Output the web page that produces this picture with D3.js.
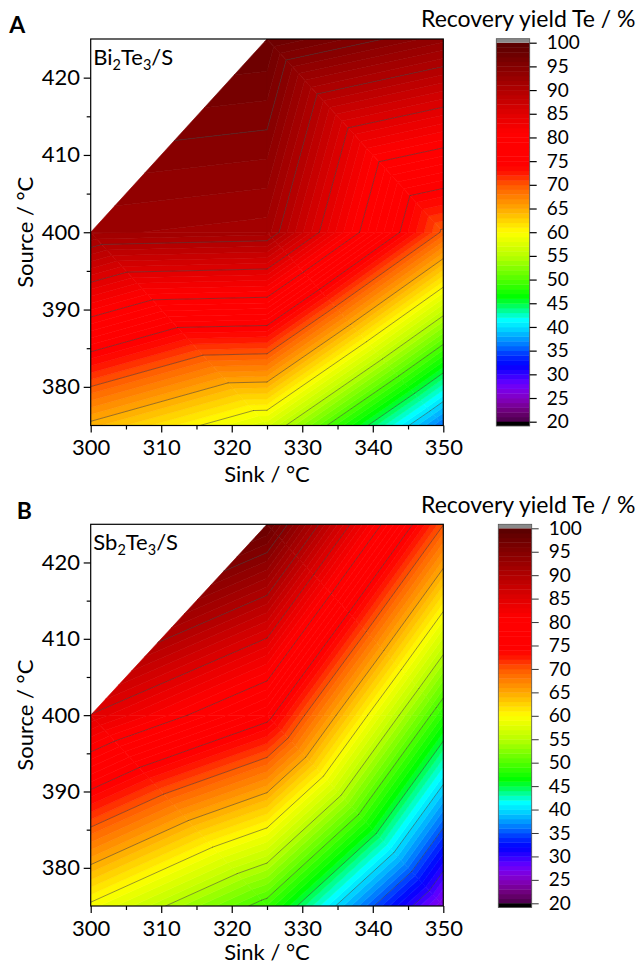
<!DOCTYPE html>
<html><head><meta charset="utf-8">
<script src="https://cdn.jsdelivr.net/npm/d3@7"></script>
<style>
html,body{margin:0;padding:0;background:#fff;}
svg text{font-family:Lato,"Open Sans",sans-serif;fill:#000;}
</style></head><body>
<svg id="chart" width="638" height="965"></svg>
<script>
// ---- data (measured grid: rows = source temperature, columns = sink temperature) ----
const sinkTemps = [300, 325, 350];
const sourceTemps = [375, 400, 425];
const yieldBi2Te3 = [
  [64.4, 57.3, 35.8],   // source 375
  [92.2, 91.5, 69.6],   // source 400
  [null, 98.1, 93.4]    // source 425
];
const yieldSb2Te3 = [
  [59.5, 48.9, 26.0],
  [84.9, 76.0, 48.0],
  [null, 98.3, 70.1]
];
// triangulation of the measured points (index pairs [sinkIdx, sourceIdx])
const meshTriangles = [
  [[0,0],[1,0],[0,1]], [[1,0],[1,1],[0,1]],
  [[1,0],[2,0],[1,1]], [[2,0],[2,1],[1,1]],
  [[0,1],[1,1],[1,2]],
  [[1,1],[2,1],[1,2]], [[2,1],[2,2],[1,2]]
];
const xTicks = [300, 310, 320, 330, 340, 350];
const xMinorTicks = [305, 315, 325, 335, 345];
const yTicks = [380, 390, 400, 410, 420];
const yMinorTicks = [385, 395, 405, 415];
const colorTicks = [20, 25, 30, 35, 40, 45, 50, 55, 60, 65, 70, 75, 80, 85, 90, 95, 100];
const lineLevels = [25, 30, 35, 40, 45, 50, 55, 60, 65, 70, 75, 80, 85, 90, 95];
const bandLevels = d3.range(20, 100, 1);
// palette (Origin-like rainbow)
const paletteValues = [20, 22, 24, 26, 28, 30, 32, 34, 36, 38, 40, 41.5, 43, 45, 46.5, 50, 55, 60, 65, 70, 72.5, 74, 81, 85, 90, 95, 100];
const paletteColors = ["#4a004a","#6a0070","#7e00a8","#8000d8","#6a00ff","#3000ff","#0000ff","#0030ff","#0070ff","#00a8ff","#00e0ff","#00ffff","#00ffb0","#00ff40","#00ff00","#50ff00","#b8ff00","#ffff00","#ffa800","#ff5800","#ff1800","#ff0000","#ff0000","#e00000","#b00000","#840000","#580000"];

const color = d3.scaleLinear().domain(paletteValues).range(paletteColors).interpolate(d3.interpolateRgb).clamp(true);
const svg = d3.select("#chart");
const FONT = 22;

const panels = [
  {values: yieldBi2Te3, letter: "A", letterX: 9.3, letterY: 33.3, formula: ["Bi","2","Te","3","/S"],
   left: 90.7, right: 443.3, top: 39, bottom: 425.5, sinkTitleY: 482,
   cbLeft: 496.3, cbRight: 529.7, cb100: 42.7, cb20: 421.7, cbTitleY: 27},
  {values: yieldSb2Te3, letter: "B", letterX: 16.7, letterY: 519.3, formula: ["Sb","2","Te","3","/S"],
   left: 90.7, right: 443.3, top: 524.3, bottom: 906, sinkTitleY: 959.5,
   cbLeft: 498.3, cbRight: 531.7, cb100: 528.3, cb20: 903.3, cbTitleY: 512.5}
];

function clipPoly(poly, level, keepAbove) {
  const out = [];
  for (let k = 0; k < poly.length; k++) {
    const P = poly[k], Q = poly[(k + 1) % poly.length];
    const pin = keepAbove ? P.v >= level : P.v <= level;
    const qin = keepAbove ? Q.v >= level : Q.v <= level;
    if (pin) out.push(P);
    if (pin !== qin) {
      const t = (level - P.v) / (Q.v - P.v);
      out.push({sx: P.sx + t * (Q.sx - P.sx), sy: P.sy + t * (Q.sy - P.sy), v: level});
    }
  }
  return out;
}

panels.forEach((cfg, pi) => {
  const x = d3.scaleLinear().domain([300, 350]).range([cfg.left, cfg.right]);
  const y = d3.scaleLinear().domain([375, 425]).range([cfg.bottom, cfg.top]);
  const clipId = "clip" + pi;
  svg.append("clipPath").attr("id", clipId).append("rect")
    .attr("x", cfg.left).attr("y", cfg.top).attr("width", cfg.right - cfg.left).attr("height", cfg.bottom - cfg.top);
  const plot = svg.append("g").attr("clip-path", `url(#${clipId})`);
  const line = d3.line().x(p => x(p.sx)).y(p => y(p.sy));

  const tris = meshTriangles.map(tri => tri.map(([i, j]) => ({sx: sinkTemps[i], sy: sourceTemps[j], v: cfg.values[j][i]})));

  // filled bands
  const bands = plot.append("g");
  tris.forEach(verts => {
    bandLevels.forEach(lo => {
      let poly = lo === 20 ? verts : clipPoly(verts, lo, true);
      if (poly.length < 3) return;
      if (lo < 99) poly = clipPoly(poly, lo + 1, false);
      if (poly.length < 3) return;
      const c = color(lo + 0.5);
      bands.append("path").attr("d", line(poly) + "Z")
        .attr("fill", c).attr("stroke", c).attr("stroke-width", 0.6).attr("stroke-linejoin", "round");
    });
  });

  // contour lines
  const lines = plot.append("g");
  tris.forEach(verts => {
    lineLevels.forEach(L => {
      const pts = [];
      for (let k = 0; k < 3; k++) {
        const P = verts[k], Q = verts[(k + 1) % 3];
        if ((P.v - L) * (Q.v - L) < 0) {
          const t = (L - P.v) / (Q.v - P.v);
          pts.push({sx: P.sx + t * (Q.sx - P.sx), sy: P.sy + t * (Q.sy - P.sy)});
        }
      }
      if (pts.length === 2) {
        lines.append("path").attr("d", line(pts))
          .attr("fill", "none").attr("stroke", "#3c3c3c").attr("stroke-opacity", 0.75)
          .attr("stroke-width", 0.7).attr("stroke-linecap", "round");
      }
    });
  });

  // frame
  svg.append("rect").attr("x", cfg.left).attr("y", cfg.top)
    .attr("width", cfg.right - cfg.left).attr("height", cfg.bottom - cfg.top)
    .attr("fill", "none").attr("stroke", "#000").attr("stroke-width", 1.2);

  // axes
  const xAxis = svg.append("g").attr("transform", `translate(0,${cfg.bottom})`)
    .call(d3.axisBottom(x).tickValues(xTicks).tickSize(7).tickPadding(7).tickFormat(d3.format("d")));
  svg.append("g").attr("transform", `translate(0,${cfg.bottom})`)
    .call(d3.axisBottom(x).tickValues(xMinorTicks).tickSize(4).tickFormat(""));
  const yAxis = svg.append("g").attr("transform", `translate(${cfg.left},0)`)
    .call(d3.axisLeft(y).tickValues(yTicks).tickSize(7).tickPadding(3.7).tickFormat(d3.format("d")));
  svg.append("g").attr("transform", `translate(${cfg.left},0)`)
    .call(d3.axisLeft(y).tickValues(yMinorTicks).tickSize(4).tickFormat(""));
  svg.selectAll(".domain").remove();
  svg.selectAll(".tick line").attr("stroke", "#000").attr("stroke-width", 1.2);
  xAxis.selectAll("text").style("font-size", FONT + "px").attr("fill", "#000");
  yAxis.selectAll("text").style("font-size", FONT + "px").attr("fill", "#000");

  // axis titles
  svg.append("text").attr("x", (cfg.left + cfg.right) / 2).attr("y", cfg.sinkTitleY)
    .attr("text-anchor", "middle").style("font-size", FONT + "px").text("Sink / °C");
  svg.append("text").attr("transform", `translate(33.3,${(cfg.top + cfg.bottom) / 2}) rotate(-90)`)
    .attr("text-anchor", "middle").style("font-size", FONT + "px").text("Source / °C");

  // panel letter
  svg.append("text").attr("x", cfg.letterX).attr("y", cfg.letterY)
    .style("font-size", "23px").style("font-weight", "bold").text(cfg.letter);

  // compound label
  const ft = svg.append("text").attr("x", cfg.left + 2.6).attr("y", cfg.top + 25.7).style("font-size", FONT + "px");
  cfg.formula.forEach((s, k) => {
    const isSub = k === 1 || k === 3;
    ft.append("tspan").text(s)
      .style("font-size", isSub ? "14.5px" : FONT + "px")
      .attr("dy", isSub ? 5 : (k === 0 ? 0 : -5));
  });

  // colour bar
  const cy = d3.scaleLinear().domain([20, 100]).range([cfg.cb20, cfg.cb100]);
  const cb = svg.append("g");
  bandLevels.forEach(lo => {
    cb.append("rect").attr("x", cfg.cbLeft).attr("y", cy(lo + 1))
      .attr("width", cfg.cbRight - cfg.cbLeft).attr("height", cy(lo) - cy(lo + 1) + 0.4)
      .attr("fill", color(lo + 0.5));
  });
  cb.append("rect").attr("x", cfg.cbLeft).attr("y", cy(100) - 4).attr("width", cfg.cbRight - cfg.cbLeft).attr("height", 4).attr("fill", "#8a8a8a");
  cb.append("rect").attr("x", cfg.cbLeft).attr("y", cy(20)).attr("width", cfg.cbRight - cfg.cbLeft).attr("height", 4.3).attr("fill", "#000");
  cb.append("rect").attr("x", cfg.cbLeft).attr("y", cy(100) - 4).attr("width", cfg.cbRight - cfg.cbLeft)
    .attr("height", cy(20) + 4.3 - (cy(100) - 4)).attr("fill", "none").attr("stroke", "#555").attr("stroke-width", 0.8);
  const cAxis = svg.append("g").attr("transform", `translate(${cfg.cbRight},0)`)
    .call(d3.axisRight(cy).tickValues(colorTicks).tickSize(7).tickPadding(10).tickFormat(d3.format("d")));
  cAxis.select(".domain").remove();
  cAxis.selectAll(".tick line").attr("stroke", "#333").attr("stroke-width", 1);
  cAxis.selectAll("text").style("font-size", "19px").attr("fill", "#000");
  svg.append("text").attr("x", 421).attr("y", cfg.cbTitleY).style("font-size", "23px").text("Recovery yield Te / %");
});
</script>
</body></html>
